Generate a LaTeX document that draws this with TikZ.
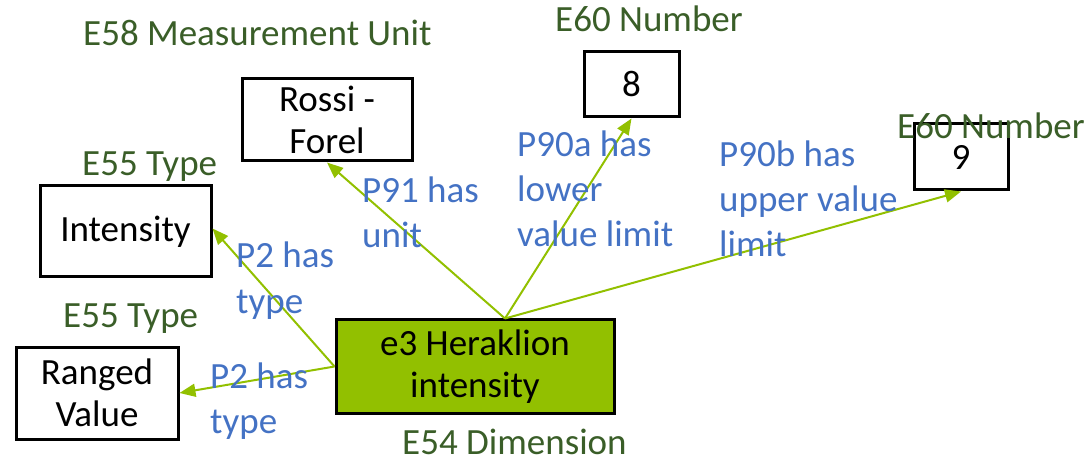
\documentclass[tikz,border=0pt]{standalone}
\usepackage{fontspec}
\setmainfont{Carlito}
\usetikzlibrary{arrows.meta}
\definecolor{classgreen}{HTML}{3A5E28}
\definecolor{propblue}{HTML}{4472C4}
\definecolor{limegreen}{HTML}{92C000}
\tikzset{
  entity/.style={draw=black, line width=3pt, inner sep=0pt, align=center,
    font=\fontsize{37}{42}\selectfont},
  classlabel/.style={anchor=base west, inner sep=0pt, text=classgreen,
    font=\fontsize{37}{45}\selectfont},
  % multi-line labels are placed by the baseline of their last line
  proplabel/.style={anchor=base west, inner sep=0pt, text=propblue, align=left,
    font=\fontsize{37}{45}\selectfont},
  link/.style={draw=limegreen, line width=2pt,
    -{Triangle[length=16pt,width=13pt]}}
}
\begin{document}
\begin{tikzpicture}[x=1pt,y=-1pt]
\useasboundingbox (0,0) rectangle (1087,462);

% entity boxes
\node[entity, minimum width=170pt, minimum height=82pt] (rossi) at (327,120) {Rossi -\\Forel};
\node[entity, minimum width=95pt, minimum height=65pt] (eight) at (631.5,84.5) {8};
\node[entity, minimum width=94pt, minimum height=66pt] (nine) at (961,157) {9};
\node[entity, minimum width=171pt, minimum height=91pt] (intensity) at (125.5,231.5) {Intensity};
\node[entity, minimum width=162pt, minimum height=92pt] (ranged) at (97,393) {Ranged\\Value};
\node[entity, fill=limegreen, minimum width=278pt, minimum height=93pt] (e3) at (475,366.5) {e3 Heraklion\\intensity};

% class names
\node[classlabel] (c58) at (83,46) {E58 Measurement Unit};
\node[classlabel] (c60a) at (555,32) {E60 Number};
\node[classlabel] (c60b) at (897,139) {E60 Number};
\node[classlabel] (c55a) at (82,176) {E55 Type};
\node[classlabel] (c55b) at (63,327) {E55 Type};
\node[classlabel] (c54) at (402,454) {E54 Dimension};

% property links
\draw[link] ([xshift=30pt]e3.north) -- (rossi.south);
\draw[link] ([xshift=30pt]e3.north) -- (eight.south);
\draw[link] ([xshift=30pt]e3.north) -- (nine.south);
\draw[link] (e3.west) -- ([yshift=3pt]intensity.east);
\draw[link] (e3.west) -- (ranged.east);

% property names
\node[proplabel] (p91) at (362,248) {P91 has\\unit};
\node[proplabel] (p90a) at (517,247) {P90a has\\lower\\value limit};
\node[proplabel] (p90b) at (719,257) {P90b has\\upper value\\limit};
\node[proplabel] (p2a) at (236,313) {P2 has\\type};
\node[proplabel] (p2b) at (210,433) {P2 has\\type};
\end{tikzpicture}
\end{document}
